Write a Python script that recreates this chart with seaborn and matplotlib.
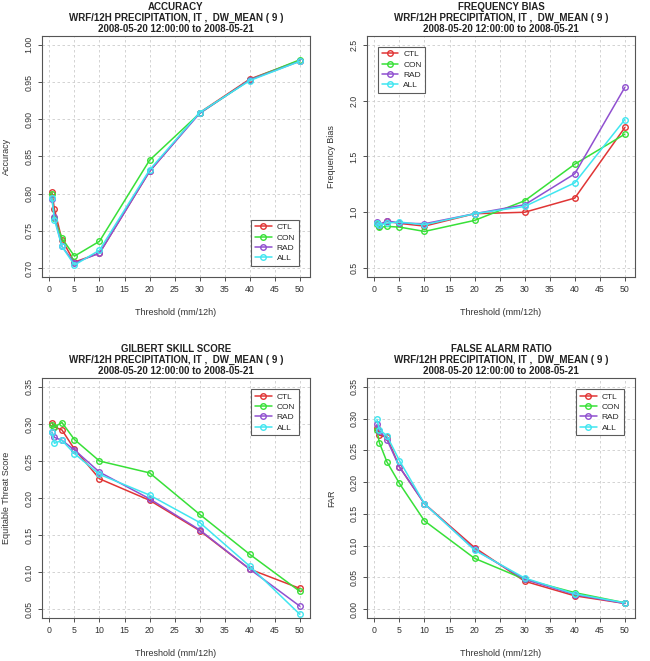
import numpy as np
import pandas as pd
import seaborn as sns
import matplotlib.pyplot as plt

# thresholds (mm/12h)
thresholds = [0.5, 1, 2.5, 5, 10, 20, 30, 40, 50]
runs = ['CTL', 'CON', 'RAD', 'ALL']
colors = {'CTL': '#E03535', 'CON': '#38E038', 'RAD': '#9050D0', 'ALL': '#40E6F0'}

accuracy = {
    'CTL': [0.802, 0.779, 0.738, 0.708, 0.720, 0.830, 0.909, 0.954, 0.979],
    'CON': [0.800, 0.767, 0.740, 0.716, 0.736, 0.845, 0.908, 0.953, 0.980],
    'RAD': [0.793, 0.769, 0.729, 0.707, 0.720, 0.830, 0.908, 0.953, 0.978],
    'ALL': [0.794, 0.765, 0.729, 0.704, 0.724, 0.832, 0.909, 0.952, 0.978],
}
freq_bias = {
    'CTL': [0.903, 0.880, 0.920, 0.900, 0.876, 0.987, 1.000, 1.127, 1.760],
    'CON': [0.897, 0.864, 0.873, 0.867, 0.828, 0.927, 1.103, 1.431, 1.700],
    'RAD': [0.909, 0.888, 0.924, 0.903, 0.897, 0.987, 1.067, 1.345, 2.120],
    'ALL': [0.903, 0.885, 0.903, 0.912, 0.888, 0.987, 1.052, 1.264, 1.831],
}
gss = {
    'CTL': [0.302, 0.296, 0.292, 0.266, 0.226, 0.197, 0.156, 0.104, 0.078],
    'CON': [0.298, 0.296, 0.302, 0.279, 0.250, 0.234, 0.178, 0.124, 0.074],
    'RAD': [0.289, 0.282, 0.278, 0.265, 0.235, 0.199, 0.157, 0.104, 0.054],
    'ALL': [0.289, 0.274, 0.278, 0.260, 0.232, 0.204, 0.167, 0.108, 0.043],
}
far = {
    'CTL': [0.285, 0.274, 0.271, 0.224, 0.166, 0.097, 0.044, 0.021, 0.009],
    'CON': [0.282, 0.262, 0.232, 0.198, 0.139, 0.080, 0.047, 0.026, 0.010],
    'RAD': [0.291, 0.281, 0.267, 0.224, 0.166, 0.094, 0.047, 0.023, 0.009],
    'ALL': [0.299, 0.283, 0.273, 0.234, 0.166, 0.093, 0.049, 0.024, 0.010],
}

subtitle = 'WRF/12H PRECIPITATION, IT ,  DW_MEAN ( 9 )\n2008-05-20 12:00:00 to 2008-05-21'

panels = [
    ('ACCURACY', accuracy, 'Accuracy', (0.70, 1.00), np.arange(0.70, 1.001, 0.05), '%.2f', 'lower right'),
    ('FREQUENCY BIAS', freq_bias, 'Frequency Bias', (0.5, 2.5), np.arange(0.5, 2.51, 0.5), '%.1f', 'upper left'),
    ('GILBERT SKILL SCORE', gss, 'Equitable Threat Score', (0.05, 0.35), np.arange(0.05, 0.351, 0.05), '%.2f', 'upper right'),
    ('FALSE ALARM RATIO', far, 'FAR', (0.0, 0.35), np.arange(0.0, 0.351, 0.05), '%.2f', 'upper right'),
]

sns.set_style('white')
plt.rcParams['font.family'] = ['Liberation Sans', 'DejaVu Sans']

fig = plt.figure(figsize=(6.5, 6.61), dpi=100)
positions = [
    [0.0646, 0.581, 0.412, 0.3646],
    [0.5646, 0.581, 0.412, 0.3646],
    [0.0646, 0.065, 0.412, 0.363],
    [0.5646, 0.065, 0.412, 0.363],
]

for (title, data, ylabel, ylim, yticks, yfmt, legloc), pos in zip(panels, positions):
    ax = fig.add_axes(pos)
    df = pd.DataFrame({r: data[r] for r in runs})
    df['threshold'] = thresholds
    long = df.melt(id_vars='threshold', var_name='run', value_name='value')

    for r in runs:
        sub = long[long['run'] == r]
        sns.lineplot(data=sub, x='threshold', y='value', color=colors[r], marker='o',
                     mfc='none', mec=colors[r], mew=1.0, ms=4, lw=1.1, label=r, ax=ax)

    xr = 50 - 0.5
    ax.set_xlim(0.5 - 0.04 * xr, 50 + 0.04 * xr)
    yr = ylim[1] - ylim[0]
    ax.set_ylim(ylim[0] - 0.04 * yr, ylim[1] + 0.04 * yr)
    ax.set_xticks(np.arange(0, 51, 5))
    ax.set_yticks(yticks)
    ax.set_yticklabels([yfmt % v for v in yticks], rotation=90, va='center')
    ax.grid(True, color='#cccccc', linestyle=(0, (3, 3)), lw=0.6)
    ax.tick_params(axis='both', labelsize=6.3, colors='#333333', length=3, width=0.6,
                   direction='out', bottom=True, left=True, pad=3)
    for s in ax.spines.values():
        s.set_color('#555555')
        s.set_linewidth(0.8)
    ax.set_xlabel('Threshold (mm/12h)', fontsize=6.5, color='#333333', labelpad=10)
    ax.set_ylabel(ylabel, fontsize=6.5, color='#333333', labelpad=10)
    ax.set_title(title + '\n' + subtitle, fontsize=7, fontweight='bold', linespacing=1.1,
                 color='#222222', pad=3)

    leg = ax.legend(loc=legloc, fontsize=6, frameon=True, fancybox=False, handlelength=2.0,
                    borderpad=0.45, labelspacing=0.3, handletextpad=0.6,
                    borderaxespad=1.3)
    leg.get_frame().set_edgecolor('#333333')
    leg.get_frame().set_linewidth(0.8)

fig.savefig('out.png', dpi=100)
